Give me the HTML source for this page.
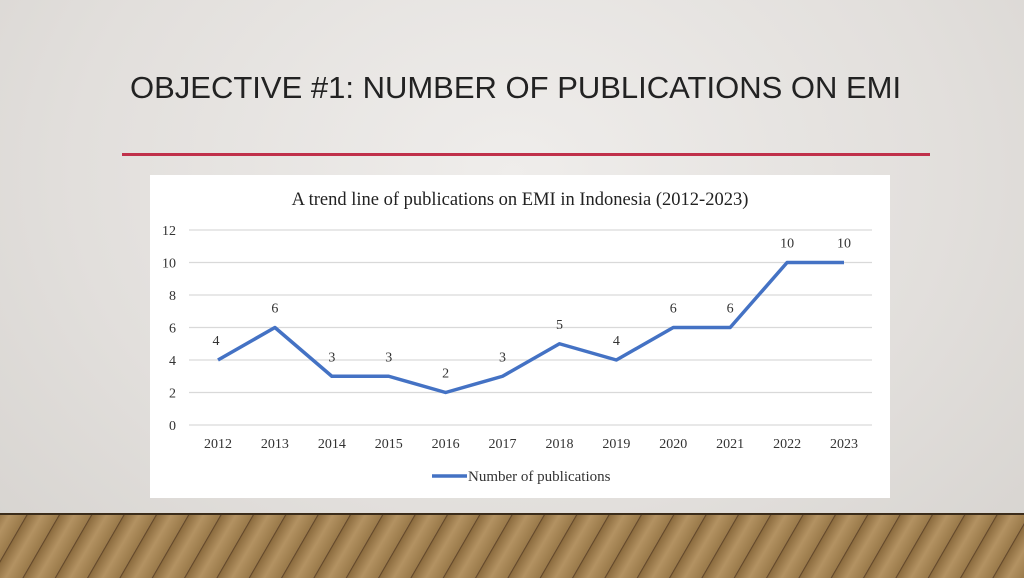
<!DOCTYPE html>
<html><head><meta charset="utf-8"><style>
body{margin:0;width:1024px;height:576px;overflow:hidden;font-family:"Liberation Sans",sans-serif;}
#bg{position:absolute;left:0;top:0;width:1024px;height:576px;background:radial-gradient(ellipse at 50% 30%,#efedeb 0%,#e2dfdc 60%,#d6d3cf 100%);}
#floor{position:absolute;left:0;top:513px;width:1024px;height:63px;border-top:2px solid #3b2c1a;
background:repeating-linear-gradient(-60deg,#9a7a4a 0px,#b39262 14px,#8d6d40 26px,#5a4024 27px,#a4845a 28px);}
h1{position:absolute;left:130px;top:70px;margin:0;font-weight:normal;font-size:31px;color:#222;letter-spacing:0px;}
#rule{position:absolute;left:122px;top:153px;width:808px;height:3px;background:#c0304a;}
</style></head><body>
<div id="bg"></div>
<div id="floor"></div>
<h1>OBJECTIVE #1: NUMBER OF PUBLICATIONS ON EMI</h1>
<div id="rule"></div>
<svg id="chart" style="position:absolute;left:0;top:0" width="1024" height="576" font-family="Liberation Serif, serif">
<rect x="150" y="175" width="740" height="323" fill="#fff"/>
<text x="520" y="205" text-anchor="middle" font-size="18.5" fill="#222">A trend line of publications on EMI  in Indonesia (2012-2023)</text>
<g id="grid"></g><g id="series"></g>
<line x1="432" y1="476" x2="467" y2="476" stroke="#4472c4" stroke-width="3.5"/>
<text x="468" y="481" font-size="15" fill="#333">Number of publications</text>
</svg>
<script>
const categories=["2012","2013","2014","2015","2016","2017","2018","2019","2020","2021","2022","2023"];
const values=[4,6,3,3,2,3,5,4,6,6,10,10];
const yTicks=[0,2,4,6,8,10,12];
const NS="http://www.w3.org/2000/svg";
const x0=218,x1=844,yTop=230,yBot=425,yMax=12;
const xs=i=>x0+i*(x1-x0)/(categories.length-1);
const ys=v=>yBot-v*(yBot-yTop)/yMax;
const grid=document.getElementById('grid'),ser=document.getElementById('series');
function mk(t,a,p){const e=document.createElementNS(NS,t);for(const k in a)e.setAttribute(k,a[k]);p.appendChild(e);return e;}
yTicks.forEach(t=>{
 const l=mk('line',{x1:189,x2:872,y1:ys(t),y2:ys(t),stroke:'#d9d9d9','stroke-width':1.3},grid);
 
 
 const tx=mk('text',{x:176,y:ys(t)+5,'text-anchor':'end','font-size':14,fill:'#333'},grid);tx.textContent=t;
 
 
});
categories.forEach((c,i)=>{
 const tx=mk('text',{x:xs(i),y:448,'text-anchor':'middle','font-size':14,fill:'#333'},grid);tx.textContent=c;
 
 
});
const pl=mk('polyline',{points:values.map((v,i)=>xs(i)+','+ys(v)).join(' '),fill:'none',stroke:'#4472c4','stroke-width':3.5,'stroke-linejoin':'round'},ser);


values.forEach((v,i)=>{
 const tx=mk('text',{x:xs(i)-(i==0?2:0),y:ys(v)-15,'text-anchor':'middle','font-size':14,fill:'#333'},ser);tx.textContent=v;
 
 
});
</script>
</body></html>
